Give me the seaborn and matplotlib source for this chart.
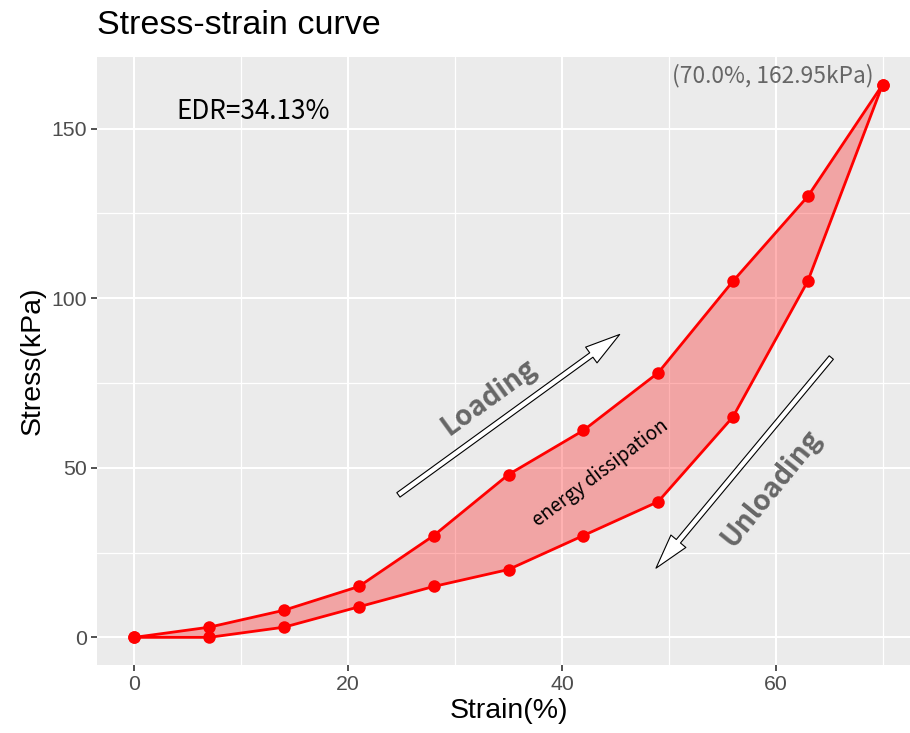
import numpy as np
import pandas as pd
import matplotlib
matplotlib.use("Agg")
import matplotlib.pyplot as plt
import seaborn as sns
from matplotlib.ticker import MultipleLocator

# ---- data ----
strain = [0, 7, 14, 21, 28, 35, 42, 49, 56, 63, 70]
loading_stress = [0, 3, 8, 15, 30, 48, 61, 78, 105, 130, 162.95]
unloading_stress = [0, 0, 3, 9, 15, 20, 30, 40, 65, 105, 162.95]
x_ticks = [0, 20, 40, 60]
y_ticks = [0, 50, 100, 150]
title = "Stress-strain curve"
x_label = "Strain(%)"
y_label = "Stress(kPa)"
edr_text = "EDR=34.13%"
peak_text = "(70.0%, 162.95kPa)"

sns.set_theme(style="darkgrid")
plt.rcParams["font.family"] = ["Liberation Sans", "DejaVu Sans"]

fig = plt.figure(figsize=(9.1, 7.33), dpi=100)
ax = fig.add_axes([97 / 910, 1 - 665 / 733, (920 - 97) / 910, (665 - 57) / 733])
ax.set_facecolor("#EBEBEB")

df_load = pd.DataFrame({"strain": strain, "stress": loading_stress})
df_unload = pd.DataFrame({"strain": strain, "stress": unloading_stress})

ax.fill_between(strain, loading_stress, unloading_stress, color="red",
                alpha=0.3, linewidth=0, zorder=2)
for d in (df_load, df_unload):
    sns.lineplot(data=d, x="strain", y="stress", ax=ax, color="red",
                 linewidth=2.0, marker="o", markersize=9, markeredgewidth=0,
                 zorder=3, sort=False)

ax.set_xlim(-3.5, 73.5)
ax.set_ylim(-8.15, 171.1)
ax.set_xticks(x_ticks)
ax.set_yticks(y_ticks)
ax.xaxis.set_minor_locator(MultipleLocator(10))
ax.yaxis.set_minor_locator(MultipleLocator(25))
ax.grid(which="major", color="white", linewidth=1.5)
ax.grid(which="minor", color="white", linewidth=0.9)
ax.set_axisbelow(True)
for s in ax.spines.values():
    s.set_visible(False)
ax.tick_params(axis="both", which="major", length=4.6, width=1.2,
               color="#333333", labelcolor="#4D4D4D", labelsize=15.3, pad=2.5,
               bottom=True, left=True)
ax.tick_params(which="minor", length=0)

ax.set_xlabel(x_label, fontsize=20.5, color="black", labelpad=3)
ax.set_ylabel(y_label, fontsize=20.5, color="black", labelpad=4)
fig.text(97 / 910, 1 - 25 / 733, title, fontsize=24.5, color="black",
         ha="left", va="center")

cjk = ["Noto Sans CJK SC", "DejaVu Sans"]
ax.text(11.1, 155, edr_text, fontsize=18.8, color="black", ha="center",
        va="center", family=cjk)
ax.text(69.2, 165.5, peak_text, fontsize=16.4, color="#666666", ha="right",
        va="center", family=cjk)
ax.text(33.2, 70.7, "Loading", fontsize=20, color="#666666",
        fontweight="bold", ha="center", va="center", rotation=36, family=cjk)
ax.text(59.6, 44, "Unloading", fontsize=20, color="#666666",
        fontweight="bold", ha="center", va="center", rotation=51, family=cjk)
ax.text(43.6, 48.5, "energy dissipation", fontsize=13.8, color="black",
        ha="center", va="center", rotation=37, family=cjk)

arrow_style = "simple,head_length=1.8,head_width=1.0,tail_width=0.28"
ax.annotate("", xy=(45.4, 89.3), xytext=(24.7, 42),
            arrowprops=dict(arrowstyle=arrow_style, fc="white", ec="black",
                            lw=0.8, mutation_scale=14, shrinkA=0, shrinkB=0))
ax.annotate("", xy=(48.8, 20.4), xytext=(65.2, 82.5),
            arrowprops=dict(arrowstyle=arrow_style, fc="white", ec="black",
                            lw=0.8, mutation_scale=14, shrinkA=0, shrinkB=0))

fig.savefig("out.png", dpi=100)
